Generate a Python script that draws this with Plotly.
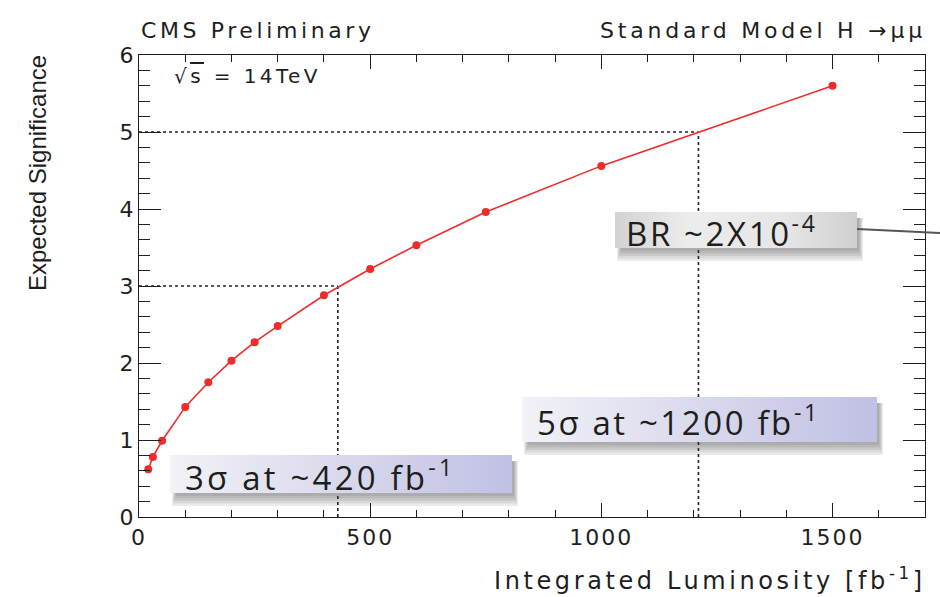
import plotly.graph_objects as go

# Expected significance versus integrated luminosity (H -> mu mu, 14 TeV)
lumi = [20, 30, 50, 100, 150, 200, 250, 300, 400, 500, 600, 750, 1000, 1500]
significance = [0.62, 0.78, 0.99, 1.43, 1.75, 2.03, 2.27, 2.48, 2.88, 3.22, 3.53, 3.96, 4.56, 5.60]

# Luminosity needed for 3 and 5 sigma
thresholds = [3, 5]
threshold_lumi = [430, 1210]

x_ticks = [0, 500, 1000, 1500]
y_ticks = [0, 1, 2, 3, 4, 5, 6]

RED = "#ee2c2c"
INK = "#1e1e1e"
AX_FONT = "DejaVu Sans, Liberation Sans, sans-serif"
BOX_FONT = "Open Sans, Lato, sans-serif"


def wide(text, spacing):
    return f"<span style='letter-spacing:{spacing}px'>{text}</span>"


fig = go.Figure()

fig.add_trace(go.Scatter(
    x=lumi, y=significance, mode="lines+markers",
    line=dict(color=RED, width=1.6),
    marker=dict(color=RED, size=8),
    showlegend=False, hoverinfo="x+y",
))

# Dotted guides from the curve down to the axes
for s, l in zip(thresholds, threshold_lumi):
    fig.add_shape(type="line", x0=0, x1=l, y0=s, y1=s,
                  line=dict(color="#222", width=1.6, dash="dot"), layer="below")
    fig.add_shape(type="line", x0=l, x1=l, y0=0, y1=s,
                  line=dict(color="#222", width=1.6, dash="dot"), layer="below")

# Pixel-space overlay axes for the callout boxes
PX0, PX1, PY0, PY1 = 139, 925, 517, 55


def callout(x0, x1, y0, y1, scale, text, size, spacing, pad):
    # soft drop shadow under the lower edge
    for i in range(5):
        fig.add_shape(type="rect", xref="x2", yref="y2",
                      x0=x0 + 6 - i, x1=x1 + 2 + i,
                      y0=y0 + 6, y1=y1 + 3 + 2.5 * i,
                      line=dict(width=0), fillcolor="rgba(60,60,60,0.10)",
                      layer="below")
    fig.add_trace(go.Scatter(
        x=[x0, x1, x1, x0, x0], y=[y0, y0, y1, y1, y0],
        xaxis="x2", yaxis="y2", mode="lines", fill="toself",
        line=dict(width=0, color="rgba(0,0,0,0)"),
        fillgradient=dict(type="horizontal", colorscale=scale),
        showlegend=False, hoverinfo="skip",
    ))
    fig.add_annotation(x=x0 + pad, y=(y0 + y1) / 2 + 1, xref="x2", yref="y2",
                       xanchor="left", text=wide(text, spacing), showarrow=False,
                       font=dict(family=BOX_FONT, size=size, color=INK))


blue_scale = [[0, "#f1f1f6"], [0.4, "#dedeef"], [1, "#c0c0e4"]]
grey_scale = [[0, "#d2d2d2"], [0.3, "#ececec"], [0.7, "#e6e6e6"], [1, "#cfcfcf"]]

callout(170, 512, 455, 493, blue_scale, "3σ at ~420 fb<sup>-1</sup>", 33, 3.2, 13)
callout(522, 877, 397, 442, blue_scale, "5σ at ~1200 fb<sup>-1</sup>", 33, 2.6, 13)
callout(615, 857, 212, 248, grey_scale, "BR ~2X10<sup>-4</sup>", 33, 2.6, 9)

# Pointer line from the BR box to the right edge
fig.add_shape(type="line", xref="paper", yref="paper",
              x0=(857 - PX0) / (PX1 - PX0), x1=(940 - PX0) / (PX1 - PX0),
              y0=(PY0 - 229) / (PY0 - PY1), y1=(PY0 - 233) / (PY0 - PY1),
              line=dict(color="#555", width=2))

axis_common = dict(
    showgrid=False, zeroline=False, showline=True, linecolor=INK, linewidth=1.3,
    mirror="ticks", ticks="inside", tickcolor=INK,
    tickfont=dict(family=AX_FONT, size=22, color=INK),
)

fig.update_layout(
    width=940, height=597,
    margin=dict(l=139, r=15, t=55, b=80),
    paper_bgcolor="white", plot_bgcolor="white",
    xaxis=dict(range=[0, 1700], tickvals=x_ticks,
               ticktext=[wide(str(v), 2.0) for v in x_ticks],
               ticklen=14, tickwidth=1.3,
               minor=dict(dtick=100, ticklen=7, tickcolor=INK, ticks="inside"),
               **axis_common),
    yaxis=dict(range=[0, 6], tickvals=y_ticks, ticklen=22, tickwidth=1.3,
               minor=dict(dtick=0.2, ticklen=11, tickcolor=INK, ticks="inside"),
               **axis_common),
    xaxis2=dict(range=[PX0, PX1], overlaying="x", visible=False, fixedrange=True),
    yaxis2=dict(range=[PY0, PY1], overlaying="y", visible=False, fixedrange=True),
)

# Headers and axis titles
fig.add_annotation(x=0, y=1.0, xref="paper", yref="paper", xanchor="left", yanchor="bottom",
                   yshift=10, text=wide("CMS Preliminary", 3.6), showarrow=False,
                   font=dict(family=AX_FONT, size=22, color=INK))
fig.add_annotation(x=1.004, y=1.0, xref="paper", yref="paper", xanchor="right", yanchor="bottom",
                   yshift=10, text=wide("Standard Model H →μμ", 3.8), showarrow=False,
                   font=dict(family=AX_FONT, size=22, color=INK))
fig.add_annotation(x=172, y=76, xref="x2", yref="y2", xanchor="left", yanchor="middle",
                   text=wide("√<span style='text-decoration:overline'>s</span> = 14TeV", 3.4),
                   showarrow=False, font=dict(family=AX_FONT, size=20, color=INK))
fig.add_annotation(x=(37 - PX0) / (PX1 - PX0), y=(PY0 - 53) / (PY0 - PY1),
                   xref="paper", yref="paper", xanchor="center", yanchor="top",
                   text="Expected Significance", textangle=-90, showarrow=False,
                   font=dict(family="Liberation Sans Narrow, Arial Narrow, Liberation Sans, sans-serif",
                             size=24, color=INK))
fig.add_annotation(x=1.004, y=0, xref="paper", yref="paper", xanchor="right", yanchor="top",
                   yshift=-44, text=wide("Integrated Luminosity [fb<sup>-1</sup>]", 3.6),
                   showarrow=False, font=dict(family=AX_FONT, size=24, color=INK))

fig.write_html("out.html")
